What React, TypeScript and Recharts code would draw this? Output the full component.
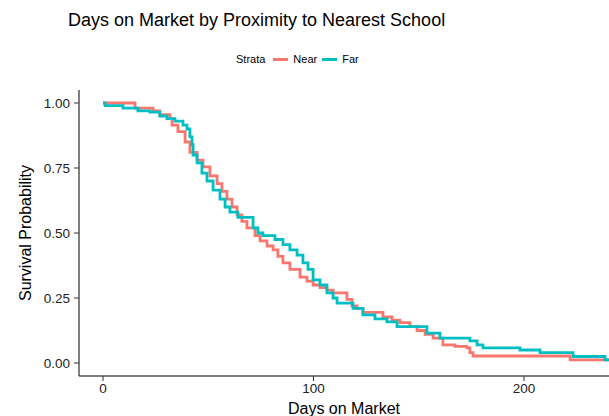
import { LineChart, Line, XAxis, YAxis } from "recharts";

// Kaplan-Meier steps (days on market, survival)
const nearDays = [0, 15.2, 23.8, 27, 31.8, 32.8, 35.6, 39, 41.3, 44.7, 47.5, 50.8, 54.2, 56.5, 58.9, 61.3, 63.7, 66, 68.4, 72.2, 74.6, 77.9, 80.8, 83.1, 85.5, 88.8, 93.6, 96.9, 99.8, 103.1, 106.4, 109.3, 115.9, 118.3, 120.7, 123.5, 133, 137.3, 141.1, 145.8, 149.2, 153, 156.8, 161.5, 167.2, 172.9, 174.3, 175.8, 221.9, 240.4];
const nearSurv = [1.0, 0.98, 0.97, 0.955, 0.94, 0.915, 0.89, 0.85, 0.81, 0.78, 0.754, 0.72, 0.69, 0.66, 0.63, 0.6, 0.57, 0.545, 0.52, 0.49, 0.47, 0.45, 0.435, 0.41, 0.385, 0.36, 0.33, 0.315, 0.3, 0.29, 0.28, 0.27, 0.245, 0.22, 0.21, 0.195, 0.177, 0.165, 0.155, 0.14, 0.125, 0.11, 0.096, 0.07, 0.064, 0.058, 0.04, 0.027, 0.012, 0.012];

const farDays = [0, 1, 9.5, 16.6, 22.3, 27, 30.4, 34.2, 38, 39.9, 41.3, 42.3, 42.8, 44.7, 47, 49.4, 52.3, 55.6, 58, 60.3, 64.1, 71.3, 73.6, 76, 81.7, 85.5, 88.8, 92.2, 95, 97.4, 99.8, 103.1, 106.4, 109.3, 111.2, 118.8, 123.5, 129.2, 134.9, 139.7, 153.9, 160.1, 174.3, 177.7, 180.5, 198.1, 207.6, 223.3, 238.5, 240.4];
const farSurv = [1.0, 0.99, 0.98, 0.97, 0.965, 0.95, 0.94, 0.93, 0.915, 0.9, 0.87, 0.84, 0.8, 0.77, 0.73, 0.7, 0.665, 0.63, 0.6, 0.58, 0.56, 0.52, 0.5, 0.49, 0.475, 0.455, 0.435, 0.415, 0.385, 0.36, 0.32, 0.3, 0.27, 0.25, 0.23, 0.21, 0.185, 0.17, 0.158, 0.14, 0.115, 0.096, 0.085, 0.07, 0.058, 0.05, 0.04, 0.025, 0.012, 0.012];

const xTicks = [0, 100, 200];
const yTicks = [0, 0.25, 0.5, 0.75, 1];

const strata = [
  { name: "Near", color: "#F8766D" },
  { name: "Far", color: "#00BFC4" },
];

const nearData = nearDays.map((d, i) => ({ day: d, surv: nearSurv[i] }));
const farData = farDays.map((d, i) => ({ day: d, surv: farSurv[i] }));

const font = "'Liberation Sans', Arial, Helvetica, sans-serif";

export default function App() {
  return (
    <div style={{ position: "absolute", left: 0, top: 0, width: 609, height: 416, fontFamily: font, background: "#fff" }}>
      <div style={{ position: "absolute", left: 68, top: 11, fontSize: 18, lineHeight: "18px", color: "#000", whiteSpace: "nowrap" }}>
        Days on Market by Proximity to Nearest School
      </div>
      <div style={{ position: "absolute", left: 236, top: 52, height: 14, display: "flex", alignItems: "center", fontSize: 11, color: "#000" }}>
        <span style={{ marginRight: 8 }}>Strata</span>
        {strata.map((s) => (
          <span key={s.name} style={{ display: "flex", alignItems: "center", marginRight: 5 }}>
            <span style={{ display: "inline-block", width: 15, height: 3, background: s.color, marginRight: 5 }} />
            {s.name}
          </span>
        ))}
      </div>
      <LineChart width={609} height={416} margin={{ top: 90, right: 0, bottom: 0, left: 0 }} style={{ position: "absolute", left: 0, top: 0 }}>
        <XAxis
          dataKey="day"
          type="number"
          domain={[-11.4, 240.4]}
          allowDataOverflow
          ticks={xTicks}
          height={40}
          tickSize={5}
          tickMargin={2}
          stroke="#000"
          tickLine={{ stroke: "#333" }}
          tick={{ fill: "#222", fontSize: 13.5, fontFamily: font }}
          label={{
            content: ({ viewBox }: any) => (
              <text x={viewBox.x + viewBox.width / 2} y={viewBox.y + 38} textAnchor="middle" fontSize={16} fontFamily={font} fill="#000">
                Days on Market
              </text>
            ),
          }}
        />
        <YAxis
          dataKey="surv"
          type="number"
          domain={[-0.05, 1.05]}
          ticks={yTicks}
          width={79}
          tickSize={5}
          tickMargin={4}
          stroke="#000"
          tickLine={{ stroke: "#333" }}
          tickFormatter={(v: number) => v.toFixed(2)}
          tick={{ fill: "#222", fontSize: 13.5, fontFamily: font }}
          label={{
            content: ({ viewBox }: any) => {
              const cx = 25;
              const cy = viewBox.y + viewBox.height / 2;
              return (
                <text x={cx} y={cy} transform={`rotate(-90, ${cx}, ${cy})`} textAnchor="middle" dominantBaseline="central" fontSize={16} fontFamily={font} fill="#000">
                  Survival Probability
                </text>
              );
            },
          }}
        />
        <Line data={nearData} dataKey="surv" name="Near" type="stepAfter" stroke="#F8766D" strokeWidth={2.8} dot={false} isAnimationActive={false} />
        <Line data={farData} dataKey="surv" name="Far" type="stepAfter" stroke="#00BFC4" strokeWidth={2.8} dot={false} isAnimationActive={false} />
      </LineChart>
    </div>
  );
}
